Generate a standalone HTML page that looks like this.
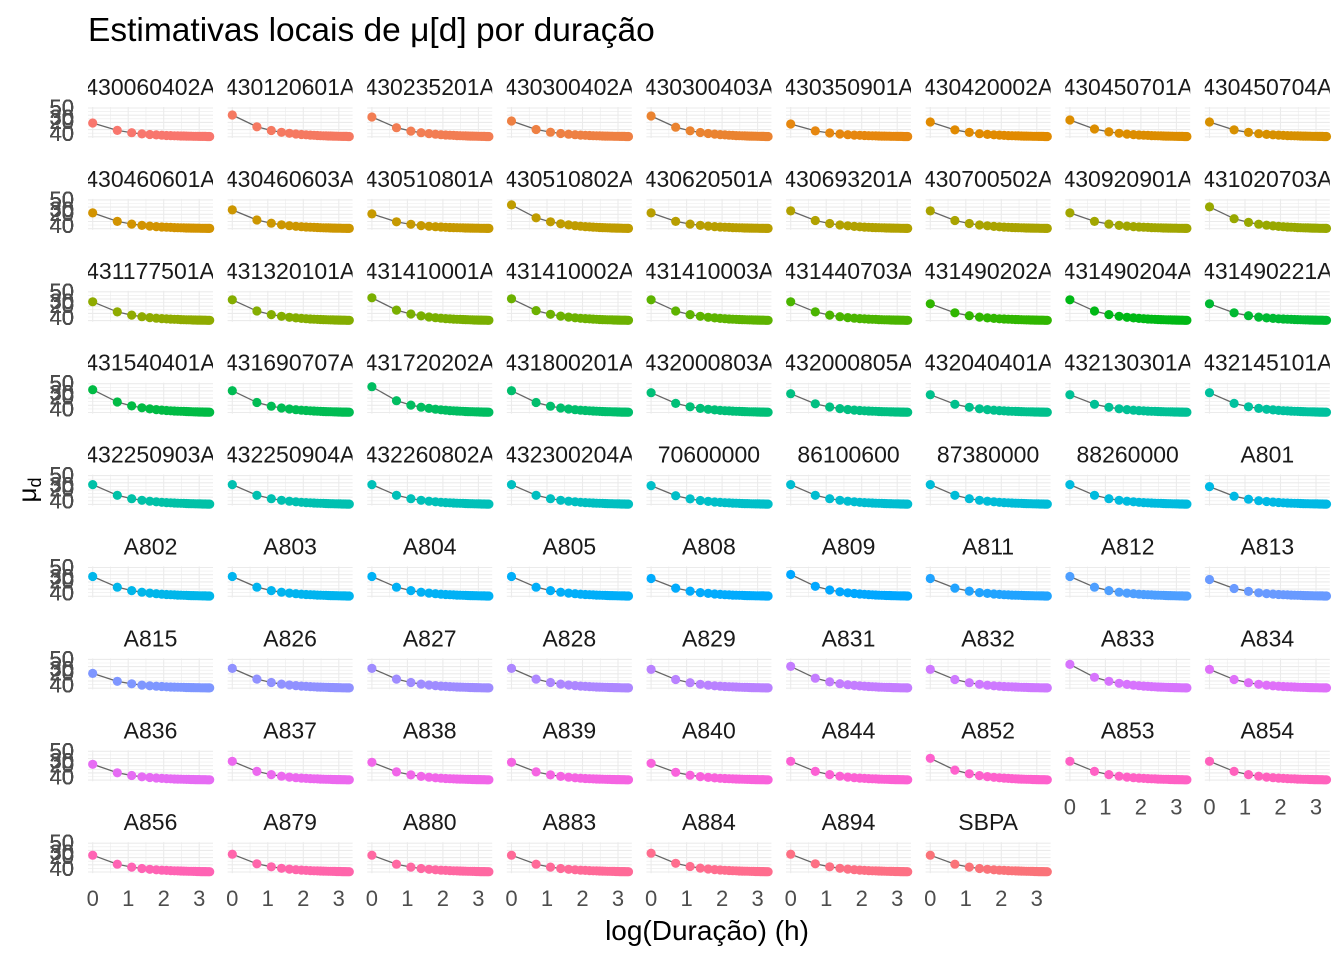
<!DOCTYPE html>
<html><head><meta charset="utf-8"><style>
html,body{margin:0;padding:0;background:#fff;}
svg text{font-family:"Liberation Sans",sans-serif;}
</style></head><body>
<svg id="s" width="1344" height="960" xmlns="http://www.w3.org/2000/svg">
<text x="88" y="41" font-size="33.5" fill="#000">Estimativas locais de μ[d] por duração</text>
<text x="707" y="940" font-size="28" fill="#000" text-anchor="middle">log(Duração) (h)</text>
<text transform="translate(36,490) rotate(-90)" font-size="26" fill="#000" text-anchor="middle">μ<tspan font-size="18" dy="5">d</tspan></text>
</svg>
<script>
const names=["430060402A","430120601A","430235201A","430300402A","430300403A","430350901A","430420002A","430450701A","430450704A",
"430460601A","430460603A","430510801A","430510802A","430620501A","430693201A","430700502A","430920901A","431020703A",
"431177501A","431320101A","431410001A","431410002A","431410003A","431440703A","431490202A","431490204A","431490221A",
"431540401A","431690707A","431720202A","431800201A","432000803A","432000805A","432040401A","432130301A","432145101A",
"432250903A","432250904A","432260802A","432300204A","70600000","86100600","87380000","88260000","A801",
"A802","A803","A804","A805","A808","A809","A811","A812","A813",
"A815","A826","A827","A828","A829","A831","A832","A833","A834",
"A836","A837","A838","A839","A840","A844","A852","A853","A854",
"A856","A879","A880","A883","A884","A894","SBPA"];
const p0s=[16,8,10,14,9,17,15,13,15, 14,11,15,6,14,12,12,14,8, 11,9,7,8,9,11,13,9,13, 7,8,4,8,10,11,12,12,10, 10,10,10,10,11,10,10,10,12, 10,10,10,10,12,8,12,10,13, 15,10,10,10,11,8,11,6,11, 14,11,12,12,13,11,8,11,11, 13,12,13,13,11,12,13];
function hcl(h,c,l){const hr=h*Math.PI/180;const U=c*Math.cos(hr),V=c*Math.sin(hr);
const un=0.19783,vn=0.46832;let Y=l>8?Math.pow((l+16)/116,3):l/903.3;
const u=U/(13*l)+un,v=V/(13*l)+vn;const X=9*Y*u/(4*v);
const Zz=Y*(12-3*u-20*v)/(4*v);
let r=3.2404542*X-1.5371385*Y-0.4985314*Zz,g=-0.9692660*X+1.8760108*Y+0.0415560*Zz,b=0.0556434*X-0.2040259*Y+1.0572252*Zz;
const f=x=>{x=x<=0.0031308?12.92*x:1.055*Math.pow(x,1/2.4)-0.055;return Math.max(0,Math.min(255,Math.round(x*255)));};
return `rgb(${f(r)},${f(g)},${f(b)})`;}
const s=document.getElementById('s');let out='';
const n=names.length;
const W=125,H=31,ux=35.5;
for(let i=0;i<n;i++){
 const r=Math.floor(i/9),c=i%9;const x0=88+c*139.6,y0=107+r*91.9;
 const col=hcl(15+360*i/n,100,65);
 out+=`<clipPath id="c${i}"><rect x="${x0}" y="${y0-32}" width="${W}" height="30"/></clipPath>`;
 out+=`<text x="${x0+W/2}" y="${y0-12}" font-size="23" fill="#1a1a1a" text-anchor="middle" clip-path="url(#c${i})">${names[i]}</text>`;
 for(let k=0;k<9;k++){const yy=y0+1+k*3.6;out+=`<line x1="${x0}" x2="${x0+W}" y1="${yy}" y2="${yy}" stroke="#ebebeb" stroke-width="${k%2?0.6:1.1}"/>`;}
 for(let k=0;k<7;k++){const xx=x0+4.7+k*ux/2;out+=`<line x1="${xx}" x2="${xx}" y1="${y0}" y2="${y0+H}" stroke="#ebebeb" stroke-width="${k%2?0.6:1.1}"/>`;}
 out+=`<g font-size="22" fill="#4d4d4d" text-anchor="end"><text x="74" y="${y0+8}">50</text><text x="74" y="${y0+18}">30</text><text x="74" y="${y0+22}">20</text><text x="74" y="${y0+34}">40</text></g>`;
 const p0=p0s[i];let pts=[];
 for(let d=1;d<=27;d++){const t=(1-Math.pow(d,-1.1))/(1-Math.pow(27,-1.1));pts.push([x0+4.7+Math.log(d)*ux,y0+p0+(29.5-p0)*t]);}
 out+=`<polyline points="${pts.map(p=>p.join(',')).join(' ')}" fill="none" stroke="#666" stroke-width="1.3"/>`;
 for(const p of pts)out+=`<circle cx="${p[0].toFixed(1)}" cy="${p[1].toFixed(1)}" r="4.6" fill="${col}"/>`;
 const bottom=(r==8)||(r==7&&c>=7);
 if(bottom){for(let k=0;k<4;k++)out+=`<text x="${x0+4.7+k*ux}" y="${y0+H+33}" font-size="22" fill="#4d4d4d" text-anchor="middle">${k}</text>`;}
}
s.insertAdjacentHTML('beforeend',out);
</script>
</body></html>
